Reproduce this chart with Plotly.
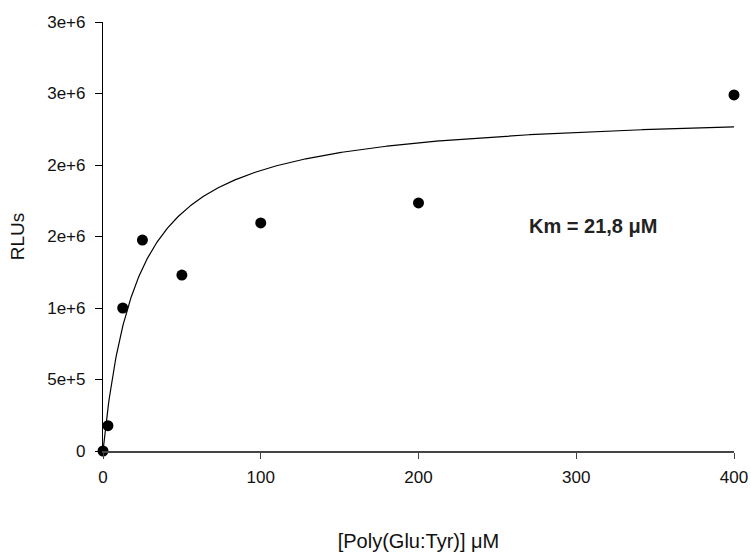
import plotly.graph_objects as go

# Data
conc = [0, 3.125, 12.5, 25, 50, 100, 200, 400]
rlus = [0, 177000, 1000000, 1475000, 1230000, 1595000, 1735000, 2490000]

# Michaelis-Menten fit parameters
km = 21.8
vmax = 2.39e6
fit_x = [i * 0.5 for i in range(0, 801)]
fit_y = [vmax * x / (km + x) for x in fit_x]

y_tickvals = [0, 5e5, 1e6, 1.5e6, 2e6, 2.5e6, 3e6]
y_ticktext = ["0", "5e+5", "1e+6", "2e+6", "2e+6", "3e+6", "3e+6"]
x_tickvals = [0, 100, 200, 300, 400]

font = "Liberation Sans, Arial, sans-serif"

fig = go.Figure()
fig.add_trace(go.Scatter(x=fit_x, y=fit_y, mode="lines",
                         line=dict(color="black", width=1.2),
                         hoverinfo="skip", cliponaxis=False))
fig.add_trace(go.Scatter(x=conc, y=rlus, mode="markers",
                         marker=dict(color="black", size=11),
                         cliponaxis=False))

fig.update_layout(
    width=751, height=553,
    margin=dict(l=103, r=17, t=22, b=102),
    plot_bgcolor="white", paper_bgcolor="white",
    showlegend=False,
    font=dict(family=font, color="#111111", size=17),
    xaxis=dict(range=[0, 400], tickvals=x_tickvals, showgrid=False, zeroline=False,
               showline=True, linecolor="#444444", linewidth=1.8,
               ticks="outside", ticklen=6, tickcolor="#444444",
               tickfont=dict(size=17), ticklabelstandoff=4, automargin=False,
               title=dict(text="[Poly(Glu:Tyr)] μM", font=dict(size=20), standoff=48)),
    yaxis=dict(range=[0, 3e6], tickvals=y_tickvals, ticktext=y_ticktext,
               showgrid=False, zeroline=False,
               showline=True, linecolor="black", linewidth=1.2,
               ticks="outside", ticklen=7, tickcolor="black",
               tickfont=dict(size=17), ticklabelstandoff=6, automargin=False,
               title=dict(text="RLUs", font=dict(size=19), standoff=17)),
    annotations=[dict(text="<b>Km = 21,8 μM</b>", x=268.7, y=1.573e6, xref="x", yref="y",
                      xanchor="left", yanchor="middle", showarrow=False,
                      font=dict(size=20, color="#222222"))],
)
fig.write_html("out.html")
